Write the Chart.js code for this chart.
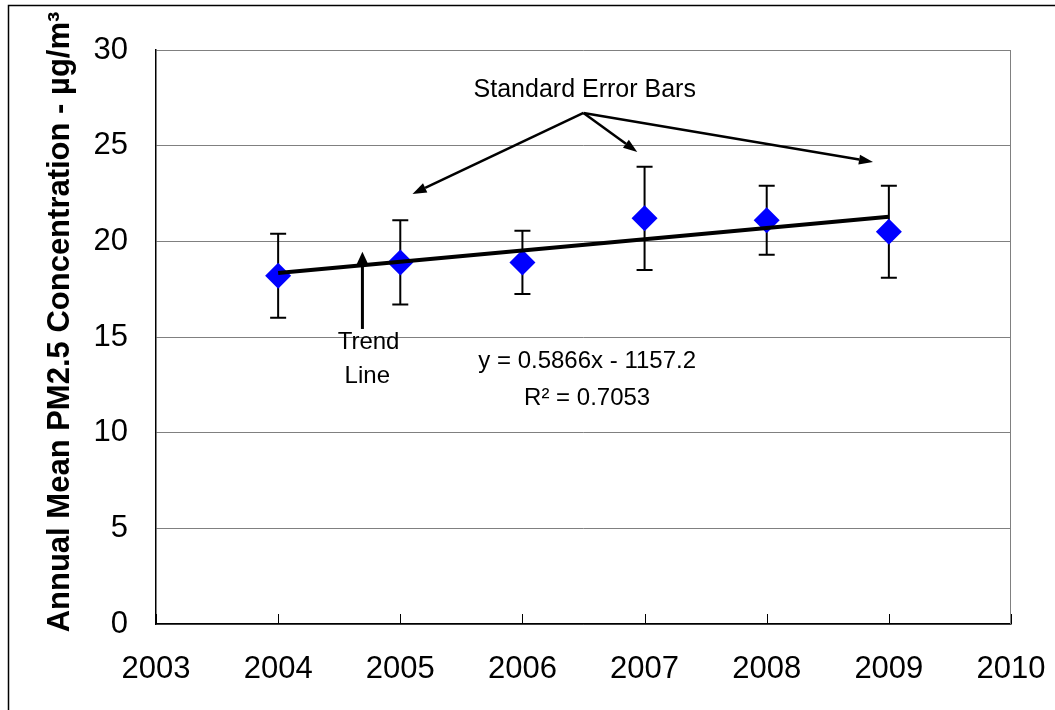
<!DOCTYPE html>
<html>
<head>
<meta charset="utf-8">
<script src="https://cdn.jsdelivr.net/npm/chart.js@4/dist/chart.umd.min.js"></script>
<style>
  html, body { margin: 0; padding: 0; background: #fff; }
  #contenedor { width: 1055px; height: 710px; }
</style>
</head>
<body>
<div id="contenedor"><canvas id="grafica" width="1055" height="710"></canvas></div>
<script>
//Años con medición y su media anual de PM2.5
const anios = [2004, 2005, 2006, 2007, 2008, 2009];
const medias = [18.2, 18.9, 18.9, 21.2, 21.1, 20.5];
//Error estándar de cada media (se dibuja como +/-)
const errores = [2.2, 2.2, 1.65, 2.7, 1.8, 2.4];

//Recta de tendencia: y = pendiente * x + ordenada
const pendiente = 0.5866;
const ordenada = -1157.2;
const r2 = 0.7053;

//Límites de los ejes
const ejeX = { min: 2003, max: 2010, paso: 1 };
const ejeY = { min: 0, max: 30, paso: 5 };

const tituloY = 'Annual Mean PM2.5 Concentration - µg/m³';
const fuente = "'Liberation Sans', Arial, sans-serif";

//Obtengo el canvas
const grafica = document.getElementById("grafica");

//Puntos de la recta, calculados con la misma ecuación que se escribe
const tendencia = [anios[0], anios[anios.length - 1]].map(x => ({ x: x, y: pendiente * x + ordenada }));

//Dibuja una flecha con punta rellena
function flecha(ctx, x1, y1, x2, y2, grosor, largo, ancho) {
    const ang = Math.atan2(y2 - y1, x2 - x1);
    const bx = x2 - largo * Math.cos(ang);
    const by = y2 - largo * Math.sin(ang);
    ctx.lineWidth = grosor;
    ctx.beginPath();
    ctx.moveTo(x1, y1);
    ctx.lineTo(bx, by);
    ctx.stroke();
    ctx.beginPath();
    ctx.moveTo(x2, y2);
    ctx.lineTo(bx + ancho / 2 * Math.sin(ang), by - ancho / 2 * Math.cos(ang));
    ctx.lineTo(bx - ancho / 2 * Math.sin(ang), by + ancho / 2 * Math.cos(ang));
    ctx.closePath();
    ctx.fill();
}

const extras = {
    id: 'extras',
    beforeDraw(chart) {
        const ctx = chart.ctx;
        ctx.save();
        ctx.fillStyle = '#fff';
        ctx.fillRect(0, 0, chart.width, chart.height);
        //marco exterior del gráfico
        ctx.strokeStyle = '#000';
        ctx.lineWidth = 1.5;
        ctx.strokeRect(8.5, 5.5, chart.width + 20, chart.height + 20);
        ctx.restore();
    },
    beforeDatasetsDraw(chart) {
        const ctx = chart.ctx;
        const a = chart.chartArea;
        const sx = chart.scales.x, sy = chart.scales.y;
        ctx.save();
        //borde derecho del área de trazado
        ctx.strokeStyle = '#808080';
        ctx.lineWidth = 1;
        ctx.beginPath();
        ctx.moveTo(Math.round(a.right) - 0.5, a.top);
        ctx.lineTo(Math.round(a.right) - 0.5, a.bottom);
        ctx.stroke();
        //marcas hacia dentro en el eje x
        ctx.strokeStyle = '#000';
        sx.ticks.forEach(t => {
            const px = Math.round(sx.getPixelForValue(t.value)) + 0.5;
            ctx.beginPath();
            ctx.moveTo(px, a.bottom);
            ctx.lineTo(px, a.bottom - 10);
            ctx.stroke();
        });
        //barras de error estándar
        ctx.lineWidth = 2;
        anios.forEach((anio, i) => {
            const px = sx.getPixelForValue(anio);
            const arriba = sy.getPixelForValue(medias[i] + errores[i]);
            const abajo = sy.getPixelForValue(medias[i] - errores[i]);
            ctx.beginPath();
            ctx.moveTo(px, arriba);
            ctx.lineTo(px, abajo);
            ctx.moveTo(px - 8, arriba);
            ctx.lineTo(px + 8, arriba);
            ctx.moveTo(px - 8, abajo);
            ctx.lineTo(px + 8, abajo);
            ctx.stroke();
        });
        ctx.restore();
    },
    afterDatasetsDraw(chart) {
        const ctx = chart.ctx;
        const sx = chart.scales.x, sy = chart.scales.y;
        const X = v => sx.getPixelForValue(v);
        const Y = v => sy.getPixelForValue(v);
        ctx.save();
        ctx.fillStyle = '#000';
        ctx.strokeStyle = '#000';
        ctx.textAlign = 'center';
        ctx.textBaseline = 'middle';

        //Rótulo de las barras de error y sus flechas
        ctx.font = '25px ' + fuente;
        ctx.fillText('Standard Error Bars', X(2006.51), Y(27.9));
        const ox = X(2006.5), oy = Y(26.71);
        flecha(ctx, ox, oy, X(2005.10), Y(22.48), 2.5, 14, 10);
        flecha(ctx, ox, oy, X(2006.94), Y(24.67), 2.5, 14, 10);
        flecha(ctx, ox, oy, X(2008.87), Y(24.15), 2.5, 14, 10);

        //Flecha de la recta de tendencia
        flecha(ctx, X(2004.69), Y(15.42), X(2004.69), Y(19.45), 3, 13, 12);
        ctx.font = '24px ' + fuente;
        ctx.fillText('Trend', X(2004.74), Y(14.74));
        ctx.fillText('Line', X(2004.73), Y(12.96));

        //Ecuación y coeficiente de determinación
        ctx.fillText('y = ' + pendiente + 'x - ' + Math.abs(ordenada), X(2006.53), Y(13.7));
        ctx.fillText('R² = ' + r2, X(2006.53), Y(11.81));

        //Título del eje y, girado
        ctx.translate(60, 322);
        ctx.rotate(-Math.PI / 2);
        ctx.font = 'bold 31px ' + fuente;
        ctx.fillText(tituloY, 0, 0);
        ctx.restore();
    }
};

new Chart(grafica, {
    data: {
        datasets: [{
            type: 'line',
            label: 'Tendencia',
            data: tendencia,
            borderColor: '#000',
            borderWidth: 4,
            pointRadius: 0,
            fill: false,
            order: 0,
        }, {
            type: 'scatter',
            label: 'Media anual',
            data: anios.map((x, i) => ({ x: x, y: medias[i] })),
            pointStyle: 'rectRot',
            pointRadius: 13,
            backgroundColor: '#0000FF',
            borderColor: '#0000FF',
            borderWidth: 0,
            order: 1,
        }]
    },
    options: {
        responsive: false,
        animation: false,
        layout: { padding: { top: 50, right: 44, bottom: 0, left: 0 } },
        plugins: {
            legend: { display: false },
            tooltip: { enabled: false },
        },
        scales: {
            x: {
                type: 'linear',
                min: ejeX.min,
                max: ejeX.max,
                afterFit: s => { s.height = 86; s.paddingLeft = 0; s.paddingRight = 0; },
                ticks: {
                    stepSize: ejeX.paso,
                    color: '#000',
                    padding: 27,
                    font: { family: fuente, size: 31 },
                    callback: v => String(v),
                },
                grid: { drawOnChartArea: false, drawTicks: false },
                border: { color: '#000', width: 1.5 },
            },
            y: {
                min: ejeY.min,
                max: ejeY.max,
                afterFit: s => { s.width = 156; },
                ticks: {
                    stepSize: ejeY.paso,
                    color: '#000',
                    padding: 28,
                    font: { family: fuente, size: 31 },
                },
                grid: { color: '#808080', lineWidth: 1, drawTicks: false },
                border: { color: '#000', width: 1.5 },
            }
        }
    },
    plugins: [extras]
});
</script>
</body>
</html>
